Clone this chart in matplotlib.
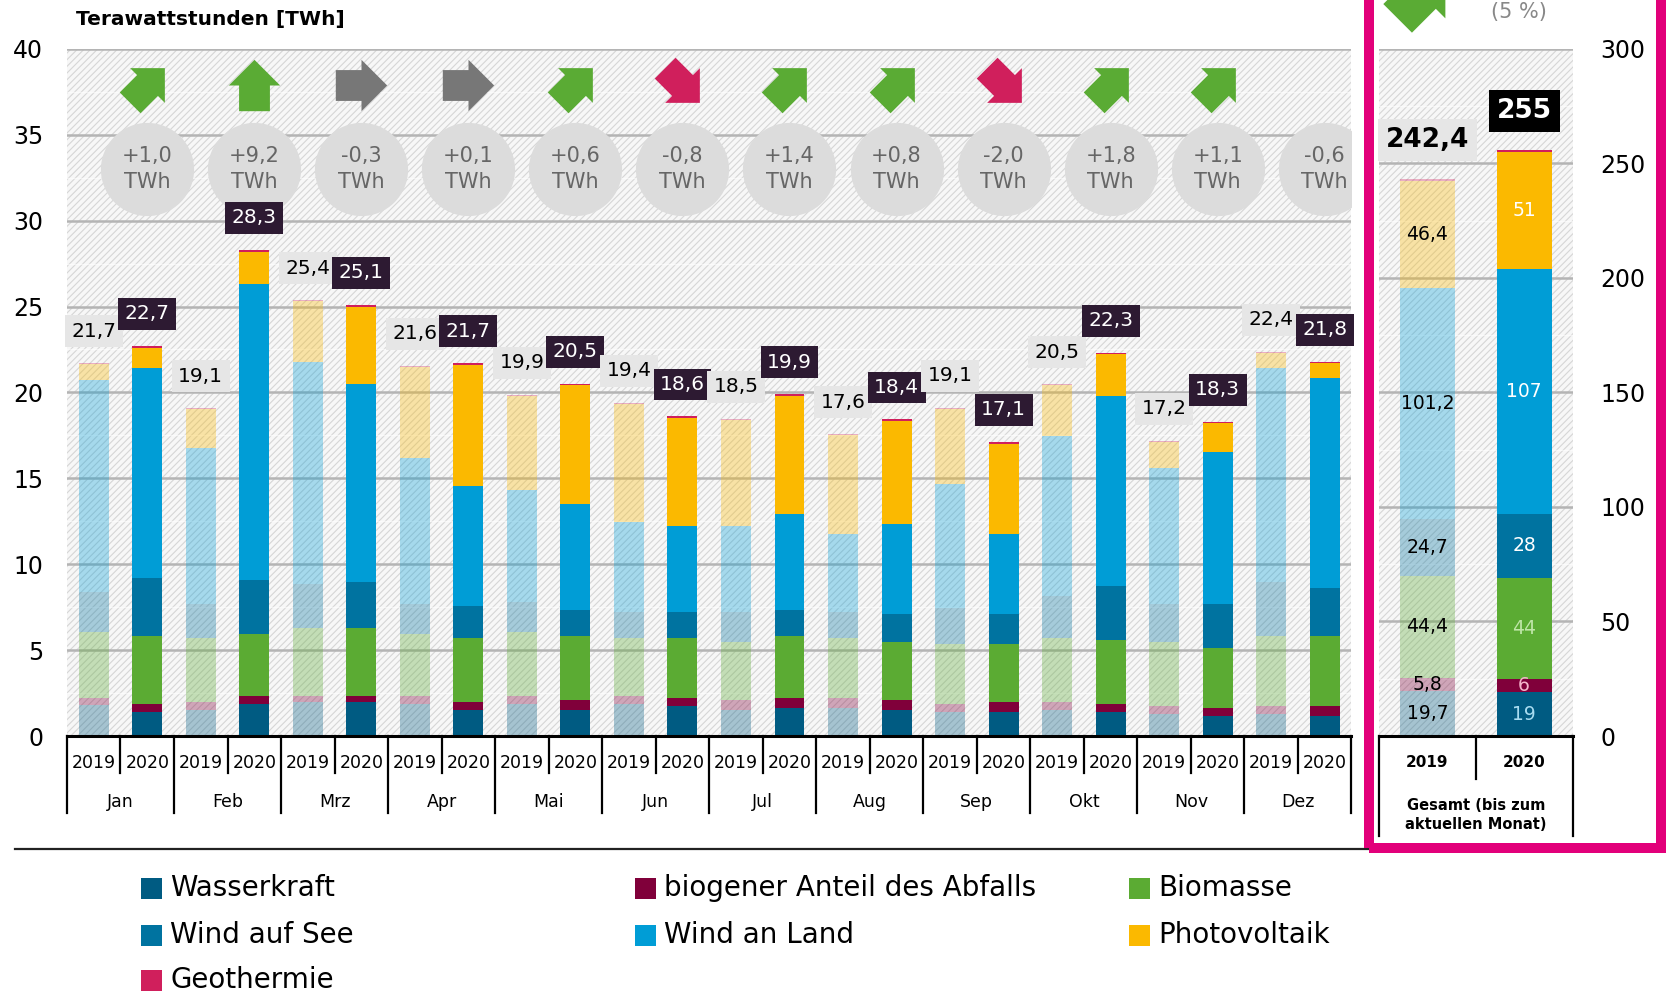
import matplotlib
matplotlib.use("Agg")
import matplotlib.pyplot as plt
import numpy as np
from matplotlib.patches import Rectangle
from matplotlib.path import Path
from matplotlib.markers import MarkerStyle

# ---- data (TWh) ----
months = ["Jan", "Feb", "Mrz", "Apr", "Mai", "Jun", "Jul", "Aug", "Sep", "Okt", "Nov", "Dez"]
years = ["2019", "2020"]
sources = ["Wasserkraft", "biogener Anteil des Abfalls", "Biomasse", "Wind auf See",
           "Wind an Land", "Photovoltaik", "Geothermie"]
colors = ["#005b82", "#80003a", "#5bab33", "#0073a0", "#009dd6", "#fbb900", "#d01f5c"]

hydro_19 = [1.78, 1.53, 2.00, 1.86, 1.86, 1.86, 1.51, 1.63, 1.40, 1.51, 1.28, 1.28]
waste_19 = [0.45, 0.45, 0.34, 0.47, 0.47, 0.47, 0.58, 0.58, 0.46, 0.47, 0.46, 0.46]
bio_19 = [3.84, 3.74, 3.94, 3.62, 3.74, 3.39, 3.39, 3.51, 3.51, 3.74, 3.74, 4.09]
offshore_19 = [2.32, 1.97, 2.56, 1.74, 1.74, 1.51, 1.75, 1.51, 2.09, 2.44, 2.21, 3.12]
onshore_19 = [12.35, 9.09, 12.96, 8.49, 6.51, 5.23, 4.98, 4.51, 7.23, 9.32, 7.91, 12.45]
pv_19 = [0.90, 2.25, 3.50, 5.32, 5.48, 6.87, 6.19, 5.78, 4.36, 2.95, 1.53, 0.90]
geo_19 = [0.06, 0.06, 0.06, 0.06, 0.06, 0.06, 0.06, 0.06, 0.06, 0.06, 0.06, 0.06]

hydro_20 = [1.40, 1.86, 2.00, 1.51, 1.51, 1.74, 1.63, 1.51, 1.40, 1.40, 1.16, 1.16]
waste_20 = [0.46, 0.47, 0.34, 0.47, 0.58, 0.47, 0.58, 0.58, 0.58, 0.46, 0.47, 0.58]
bio_20 = [3.97, 3.62, 3.96, 3.74, 3.74, 3.51, 3.62, 3.39, 3.39, 3.74, 3.51, 4.09]
offshore_20 = [3.38, 3.14, 2.69, 1.86, 1.51, 1.51, 1.51, 1.63, 1.74, 3.14, 2.55, 2.79]
onshore_20 = [12.20, 17.25, 11.49, 6.97, 6.17, 4.98, 5.57, 5.22, 4.63, 11.07, 8.84, 12.21]
pv_20 = [1.20, 1.86, 4.52, 7.06, 6.91, 6.29, 6.90, 6.00, 5.28, 2.40, 1.67, 0.87]
geo_20 = [0.10, 0.10, 0.10, 0.10, 0.10, 0.10, 0.10, 0.10, 0.10, 0.10, 0.10, 0.10]

total_19 = [21.7, 19.1, 25.4, 21.6, 19.9, 19.4, 18.5, 17.6, 19.1, 20.5, 17.2, 22.4]
total_20 = [22.7, 28.3, 25.1, 21.7, 20.5, 18.6, 19.9, 18.4, 17.1, 22.3, 18.3, 21.8]
trend = ["diag_up", "up", "flat", "flat", "diag_up", "diag_down", "diag_up", "diag_up",
         "diag_down", "diag_up", "diag_up", None]

# cumulated year (bis zum aktuellen Monat)
sum_19 = [19.7, 5.8, 44.4, 24.7, 101.2, 46.4, 1.0]
sum_20 = [19, 6, 44, 28, 107, 51, 1.0]
sum_total_19 = "242,4"
sum_total_20 = "255"
sum_label_colors_20 = ["#a8dcf0", "#f4b6cc", "#bfe6a8", "white", "white", "white", None]

series_19 = [hydro_19, waste_19, bio_19, offshore_19, onshore_19, pv_19, geo_19]
series_20 = [hydro_20, waste_20, bio_20, offshore_20, onshore_20, pv_20, geo_20]

W, H = 1666, 993
plt.rcParams["hatch.linewidth"] = 0.8
fig = plt.figure(figsize=(W / 100, H / 100), dpi=100)

ax_bottom, ax_top = 0.2588, 0.9508
ax = fig.add_axes([0.0402, ax_bottom, 0.8112 - 0.0402, ax_top - ax_bottom])
ax2 = fig.add_axes([0.8278, ax_bottom, 0.9439 - 0.8278, ax_top - ax_bottom])


def style_axes(a, ymax, step):
    a.set_facecolor("white")
    a.add_patch(Rectangle((0, 0), 1, 1, transform=a.transAxes, facecolor="#f7f7f7",
                          edgecolor="#d6d6d6", hatch="/////", lw=0, zorder=0))
    a.set_ylim(0, ymax)
    a.set_yticks(np.arange(0, ymax + 1, step))
    a.set_yticks(np.arange(step / 2, ymax, step), minor=True)
    a.set_axisbelow(True)
    a.yaxis.grid(True, which="major", color="#b4b4b4", lw=1.8)
    a.yaxis.grid(True, which="minor", color="white", lw=1.0, alpha=0.6)
    a.tick_params(axis="y", which="both", length=0, labelsize=17)
    a.set_xticks([])
    for s in ["top", "left", "right"]:
        a.spines[s].set_visible(False)
    a.spines["bottom"].set_color("black")
    a.spines["bottom"].set_linewidth(2.2)
    a.spines["bottom"].set_zorder(6)


style_axes(ax, 40, 5)
style_axes(ax2, 300, 50)
ax.tick_params(axis="y", pad=17)
ax2.yaxis.tick_right()
ax2.tick_params(axis="y", pad=20)

n = len(months)
x19 = np.arange(n) * 2
x20 = np.arange(n) * 2 + 1
bw = 0.56
ax.set_xlim(-0.5, 2 * n - 0.5)

b19 = np.zeros(n)
b20 = np.zeros(n)
for s19, s20, c in zip(series_19, series_20, colors):
    ax.bar(x19, s19, bw, bottom=b19, color=c, alpha=0.33, lw=0, zorder=2)
    ax.bar(x20, s20, bw, bottom=b20, color=c, lw=0, zorder=2)
    b19 += np.array(s19)
    b20 += np.array(s20)

de = lambda v, fmt="{:.1f}": fmt.format(v).replace(".", ",")

for i in range(n):
    ax.annotate(de(total_19[i]), (x19[i], b19[i]), xytext=(0, 23), textcoords="offset points",
                ha="center", va="center", fontsize=14.5, color="black", zorder=7,
                bbox=dict(boxstyle="square,pad=0.32", fc="#e6e6e6", ec="none"))
    ax.annotate(de(total_20[i]), (x20[i], b20[i]), xytext=(0, 23), textcoords="offset points",
                ha="center", va="center", fontsize=14.5, color="white", zorder=7,
                bbox=dict(boxstyle="square,pad=0.32", fc="#2d1a32", ec="none"))

# change circles and arrows
delta = np.round(np.array(total_20) - np.array(total_19), 1)
ax.scatter(x20, np.full(n, 33.0), s=4500, color="#dcdcdc", lw=0, zorder=3)
for i in range(n):
    ax.text(x20[i], 33.0, de(delta[i], "{:+.1f}") + "\nTWh", ha="center", va="center",
            fontsize=15, color="#666666", linespacing=1.35, zorder=4)

arrow_xy = np.array([[-0.5, -0.3], [0, -0.3], [0, -0.5], [0.5, 0], [0, 0.5], [0, 0.3],
                     [-0.5, 0.3], [-0.5, -0.3]])
arrow_angle = {"up": 90, "diag_up": 45, "flat": 0, "diag_down": -45}
arrow_color = {"up": "#5aab34", "diag_up": "#5aab34", "flat": "#777777", "diag_down": "#d01f5c"}


def arrow_marker(angle):
    a = np.deg2rad(angle)
    rot = np.array([[np.cos(a), -np.sin(a)], [np.sin(a), np.cos(a)]])
    return MarkerStyle(Path(arrow_xy @ rot.T, closed=True))


for i in range(n):
    if trend[i] is None:
        continue
    size = 40 if trend[i].startswith("diag") else 37
    ax.plot(x20[i], 37.9, ls="none", marker=arrow_marker(arrow_angle[trend[i]]),
            markersize=size, color=arrow_color[trend[i]], mew=0, zorder=3)

# category axis (years + months)
tr = ax.get_xaxis_transform()
for i in range(n):
    ax.text(x19[i], -0.0387, years[0], transform=tr, ha="center", va="center", fontsize=12.5)
    ax.text(x20[i], -0.0387, years[1], transform=tr, ha="center", va="center", fontsize=12.5)
    ax.text(x19[i] + 0.5, -0.0959, months[i], transform=tr, ha="center", va="center", fontsize=12.5)
    ax.plot([x19[i] + 0.5] * 2, [0, -0.054], transform=tr, color="black", lw=1.6, clip_on=False)
for xs in np.arange(n + 1) * 2 - 0.5:
    ax.plot([xs, xs], [0, -0.112], transform=tr, color="black", lw=1.6, clip_on=False)

# cumulated panel
ax2.set_xlim(-0.5, 1.5)
cb19, cb20 = 0.0, 0.0
for k, c in enumerate(colors):
    ax2.bar(0, sum_19[k], 0.57, bottom=cb19, color=c, alpha=0.33, lw=0, zorder=2)
    ax2.bar(1, sum_20[k], 0.57, bottom=cb20, color=c, lw=0, zorder=2)
    if sum_label_colors_20[k] is not None:
        ax2.text(0, cb19 + sum_19[k] / 2, de(sum_19[k]), ha="center", va="center",
                 fontsize=13.5, color="black", zorder=4)
        ax2.text(1, cb20 + sum_20[k] / 2, str(sum_20[k]), ha="center", va="center",
                 fontsize=13.5, color=sum_label_colors_20[k], zorder=4)
    cb19 += sum_19[k]
    cb20 += sum_20[k]

ax2.annotate(sum_total_19, (0, cb19), xytext=(0, 28), textcoords="offset points", ha="center",
             va="center", fontsize=19, fontweight="bold", color="black", zorder=7,
             bbox=dict(boxstyle="square,pad=0.3", fc="#e6e6e6", ec="none"))
ax2.annotate(sum_total_20, (1, cb20), xytext=(0, 28), textcoords="offset points", ha="center",
             va="center", fontsize=19, fontweight="bold", color="white", zorder=7,
             bbox=dict(boxstyle="square,pad=0.3", fc="black", ec="none"))

tr2 = ax2.get_xaxis_transform()
for k, yr in enumerate(years):
    ax2.text(k, -0.0387, yr, transform=tr2, ha="center", va="center", fontsize=11, fontweight="bold")
ax2.text(0.5, -0.115, "Gesamt (bis zum\naktuellen Monat)", transform=tr2, ha="center",
         va="center", fontsize=10.5, fontweight="bold", linespacing=1.3)
ax2.plot([0.5, 0.5], [0, -0.062], transform=tr2, color="black", lw=1.6, clip_on=False)
for xs in [-0.5, 1.5]:
    ax2.plot([xs, xs], [0, -0.146], transform=tr2, color="black", lw=1.6, clip_on=False)

# title
fig.text(76 / W, 1 - 19 / H, "Terawattstunden [TWh]", fontsize=14.5, fontweight="bold",
         ha="left", va="center")

# separator line and magenta frame (its top lies above the visible area)
fig.add_artist(plt.Line2D([15 / W, 1640 / W], [1 - 849 / H] * 2, color="#222222", lw=1.6))
fig.add_artist(Rectangle((1368.5 / W, 1 - 848 / H), (1661 - 1368.5) / W, 1.0, fill=False,
                         ec="#e2007a", lw=7.2, transform=fig.transFigure, zorder=5))

# annual change marker at the top of the frame
fig.add_artist(plt.Line2D([1421 / W], [1 + 5.6 / H], ls="none", marker=arrow_marker(45),
                          markersize=55, color="#5aab34", mew=0))
fig.text(1519 / W, 1 - 12 / H, "(5 %)", fontsize=15, color="#888888", ha="center", va="center")

# legend
legend_cols = [141, 635, 1129]
legend_rows = [888, 935, 980]
legend_pos = [(0, 0), (1, 0), (2, 0), (0, 1), (1, 1), (2, 1), (0, 2)]
for k, name in enumerate(sources):
    col, row = legend_pos[k]
    x0, yc = legend_cols[col], legend_rows[row]
    fig.add_artist(Rectangle((x0 / W, 1 - (yc + 10.5) / H), 21 / W, 21 / H, color=colors[k],
                             lw=0, transform=fig.transFigure))
    fig.text((x0 + 29) / W, 1 - yc / H, name, fontsize=20, ha="left", va="center")

fig.savefig("out.png", dpi=100)
